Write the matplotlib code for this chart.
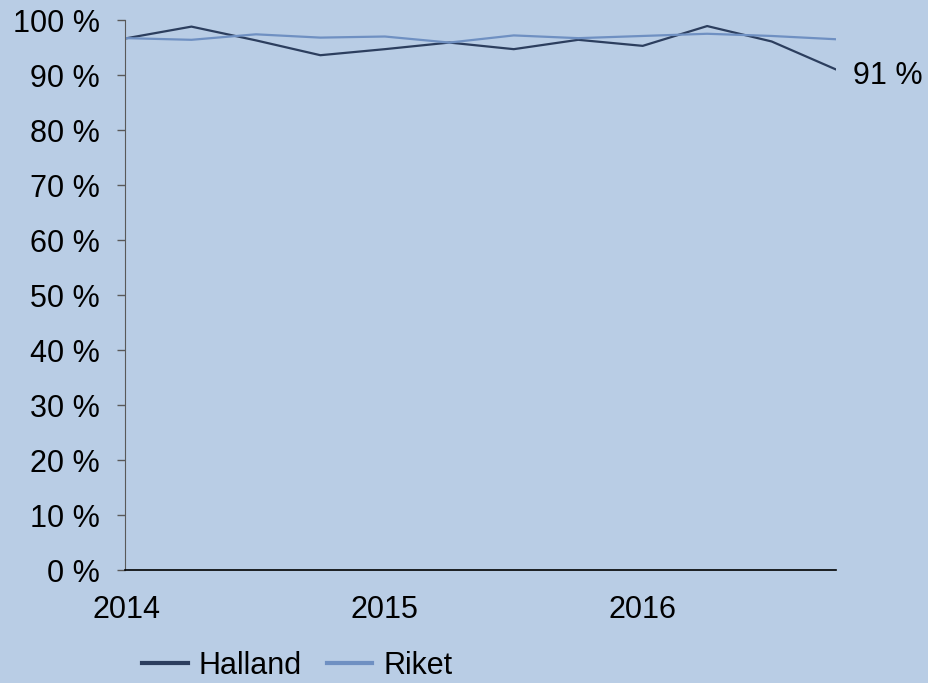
"""Halland vs Riket, quarterly share 2014-2016."""

import matplotlib.pyplot as plt

plt.rcParams["font.family"] = ["Liberation Sans", "DejaVu Sans"]

quarters = ["2014 Q1", "2014 Q2", "2014 Q3", "2014 Q4",
            "2015 Q1", "2015 Q2", "2015 Q3", "2015 Q4",
            "2016 Q1", "2016 Q2", "2016 Q3", "2016 Q4"]
halland = [96.7, 98.8, 96.3, 93.6, 94.7, 95.9, 94.7, 96.4, 95.3, 98.9, 96.1, 91.0]
riket = [96.7, 96.4, 97.4, 96.8, 97.0, 95.9, 97.2, 96.7, 97.1, 97.5, 97.1, 96.5]
year_ticks = [0, 4, 8]
year_labels = ["2014", "2015", "2016"]
y_ticks = list(range(0, 101, 10))

bg = "#b9cde5"
c_halland = "#2c3e5e"
c_riket = "#6f90c2"
fs = 22

fig = plt.figure(figsize=(9.29, 6.83), dpi=100, facecolor=bg)
ax = fig.add_axes([0.1346, 0.1654, 0.9 - 0.1346, 0.9707 - 0.1654])
ax.set_facecolor(bg)

x = list(range(len(quarters)))
ax.plot(x, halland, color=c_halland, linewidth=1.6, label="Halland")
ax.plot(x, riket, color=c_riket, linewidth=1.6, label="Riket")

ax.annotate(f"{halland[-1]:.0f} %", (x[-1], halland[-1]), xytext=(12, -5),
            textcoords="offset points", ha="left", va="center", fontsize=fs)

ax.set_xlim(-0.03, 11)
ax.set_ylim(0, 100)
ax.set_yticks(y_ticks)
ax.set_yticklabels([f"{v} %" for v in y_ticks])
ax.set_xticks(year_ticks)
ax.set_xticklabels(year_labels)

ax.tick_params(axis="y", length=6, width=1, color="#595959", labelsize=fs, pad=12)
ax.tick_params(axis="x", length=0, labelsize=fs, pad=18)

for side in ("top", "right"):
    ax.spines[side].set_visible(False)
ax.spines["left"].set_color("#595959")
ax.spines["bottom"].set_color("#000000")
ax.spines["bottom"].set_linewidth(1.2)

fig.legend(loc="center", bbox_to_anchor=(0.32, 0.025), ncol=2, frameon=False,
           fontsize=fs, handlelength=1.5, handletextpad=0.35, columnspacing=0.8)
for line in fig.legends[0].get_lines():
    line.set_linewidth(3)

fig.savefig("out.png", dpi=100, facecolor=bg)
